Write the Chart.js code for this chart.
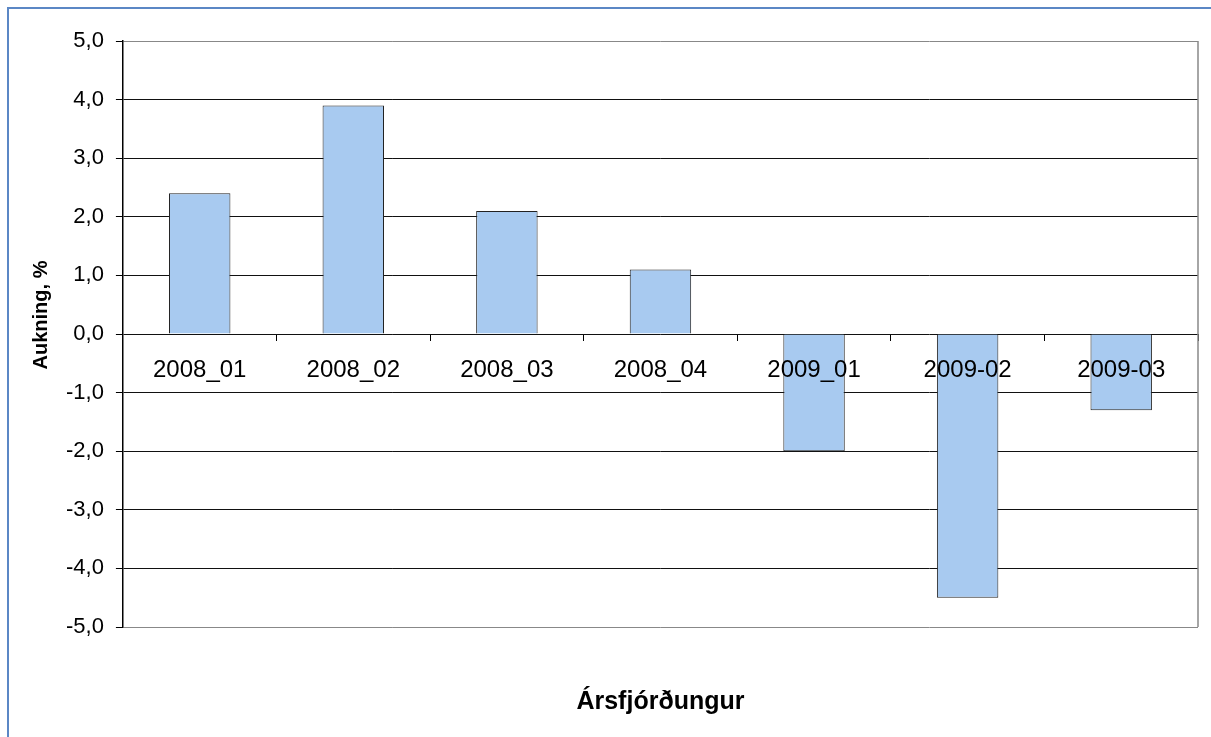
<!DOCTYPE html>
<html>
<head>
<meta charset="utf-8">
<script src="https://cdn.jsdelivr.net/npm/chart.js@4.4.1/dist/chart.umd.min.js"></script>
<style>
    html, body { margin: 0; padding: 0; background: #fff; overflow: hidden; }
    #wrap { position: relative; width: 1211px; height: 737px; }
    #frame {
        position: absolute; left: 7px; top: 7px; width: 1300px; height: 900px;
        border-left: 2px solid #5b87c5; border-top: 2px solid #5b87c5;
        pointer-events: none;
    }
</style>
</head>
<body>
<div id="wrap">
    <canvas id="chart" width="1211" height="737"></canvas>
    <div id="frame"></div>
</div>
<script>
// Data
const quarters = ['2008_01', '2008_02', '2008_03', '2008_04', '2009_01', '2009-02', '2009-03'];
const growth = [2.4, 3.9, 2.1, 1.1, -2.0, -4.5, -1.3];
const yMin = -5;
const yMax = 5;
const yTitle = 'Aukning, %';
const xTitle = 'Ársfjórðungur';

const FONT = 'Liberation Sans, Arial, sans-serif';

// Gray right edge of the plot area + the y title (sits a bit above the axis middle)
const plotExtras = {
    id: 'plotExtras',
    beforeDatasetsDraw(chart) {
        const { ctx, chartArea } = chart;
        ctx.save();
        ctx.strokeStyle = '#888';
        ctx.lineWidth = 1.5;
        ctx.beginPath();
        ctx.moveTo(chartArea.right, chartArea.top);
        ctx.lineTo(chartArea.right, chartArea.bottom);
        ctx.stroke();
        ctx.restore();
    },
    afterDraw(chart) {
        const { ctx } = chart;
        const y = chart.scales.y;
        ctx.save();
        ctx.translate(41, (y.top + y.bottom) / 2 - 19);
        ctx.rotate(-Math.PI / 2);
        ctx.font = 'bold 20px ' + FONT;
        ctx.fillStyle = '#000';
        ctx.textAlign = 'center';
        ctx.textBaseline = 'middle';
        ctx.fillText(yTitle, 0, 0);
        ctx.restore();
    }
};

const ctx = document.getElementById('chart').getContext('2d');
new Chart(ctx, {
    type: 'bar',
    data: {
        labels: quarters,
        datasets: [{
            data: growth,
            backgroundColor: '#a8caf0',
            borderColor: '#222',
            borderWidth: 1,
            barPercentage: 0.4,
            categoryPercentage: 1
        }]
    },
    options: {
        responsive: false,
        animation: false,
        layout: {
            padding: { left: 54, top: 41, right: 13, bottom: 10 }
        },
        plugins: {
            legend: { display: false },
            tooltip: { enabled: false },
            title: {
                display: true,
                text: xTitle,
                position: 'bottom',
                fullSize: false,
                color: '#000',
                font: { family: FONT, size: 25, weight: 'bold' },
                padding: { top: 60, bottom: 10 }
            }
        },
        scales: {
            x: {
                position: { y: 0 },
                offset: true,
                border: { display: false },
                grid: {
                    offset: true,
                    drawOnChartArea: false,
                    tickLength: 7,
                    color: '#000'
                },
                ticks: {
                    z: 1,
                    padding: 15,
                    color: '#000',
                    maxRotation: 0,
                    autoSkip: false,
                    font: { family: FONT, size: 24 }
                }
            },
            y: {
                min: yMin,
                max: yMax,
                border: { color: '#000', width: 1.5 },
                grid: {
                    tickLength: 7,
                    tickColor: '#000',
                    color: (c) => (c.tick && (c.tick.value === yMin || c.tick.value === yMax)) ? '#888' : '#111'
                },
                ticks: {
                    stepSize: 1,
                    padding: 12,
                    color: '#000',
                    font: { family: FONT, size: 22 },
                    callback: (v) => v.toFixed(1).replace('.', ',')
                }
            }
        }
    },
    plugins: [plotExtras]
});
</script>
</body>
</html>
